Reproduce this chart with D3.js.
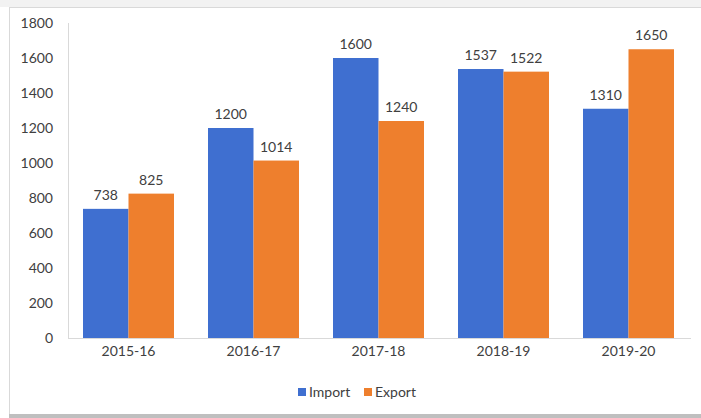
<!DOCTYPE html>
<html><head><meta charset="utf-8">
<script src="https://cdn.jsdelivr.net/npm/d3@7"></script>
<style>body{margin:0;background:#fff;} svg{display:block;}</style>
</head><body>
<svg id="c" width="701" height="418"></svg>
<script>
const categories = ["2015-16","2016-17","2017-18","2018-19","2019-20"];
const seriesNames = ["Import","Export"];
const importValues = [738,1200,1600,1537,1310];
const exportValues = [825,1014,1240,1522,1650];
const yTicks = [0,200,400,600,800,1000,1200,1400,1600,1800];
const colors = ["#3F6FD0","#EE7F2D"];

const svg = d3.select("#c");
const font = "Lato, 'Open Sans', sans-serif";
const fs = 14;

// frame
svg.append("rect").attr("x",0).attr("y",0).attr("width",701).attr("height",7).attr("fill","#f2f2f2");
svg.append("line").attr("x1",9).attr("x2",701).attr("y1",7.5).attr("y2",7.5).attr("stroke","#d9d9d9");
svg.append("line").attr("x1",9.5).attr("x2",9.5).attr("y1",7).attr("y2",416).attr("stroke","#d9d9d9");
svg.append("rect").attr("x",9).attr("y",414).attr("width",692).attr("height",4).attr("fill","#bfbfbf");

const y = d3.scaleLinear().domain([0,1800]).range([338,23]);
const x0 = d3.scaleBand().domain(categories).range([66,691]).paddingInner(0.272).paddingOuter(0.136);
const x1 = d3.scaleBand().domain(seriesNames).range([0,x0.bandwidth()]);

// axes lines
svg.append("line").attr("x1",68.5).attr("x2",68.5).attr("y1",y(1800)).attr("y2",y(0)).attr("stroke","#d9d9d9");
svg.append("line").attr("x1",68).attr("x2",691).attr("y1",y(0)+0.5).attr("y2",y(0)+0.5).attr("stroke","#d9d9d9");

// y tick labels
const yAxis = d3.axisLeft(y).tickValues(yTicks).tickFormat(d3.format("d")).tickSize(0).tickPadding(0);
const ya = svg.append("g").attr("transform","translate(53,0)").call(yAxis);
ya.select(".domain").remove();
ya.selectAll("text").attr("font-family",font).attr("font-size",fs).attr("fill","#404040");

// x labels
const xAxis = d3.axisBottom(x0).tickSize(0).tickPadding(0);
const xa = svg.append("g").attr("transform","translate(0,346)").call(xAxis);
xa.select(".domain").remove();
xa.selectAll("text").attr("font-family",font).attr("font-size",fs).attr("fill","#404040");

const data = categories.map((c,i)=>({cat:c, vals:[importValues[i],exportValues[i]]}));
const g = svg.selectAll("g.grp").data(data).join("g").attr("class","grp")
  .attr("transform",d=>`translate(${x0(d.cat)},0)`);
g.selectAll("rect").data(d=>d.vals.map((v,j)=>({s:seriesNames[j],v,j}))).join("rect")
  .attr("x",d=>x1(d.s)).attr("width",x1.bandwidth())
  .attr("y",d=>y(d.v)).attr("height",d=>y(0)-y(d.v))
  .attr("fill",d=>colors[d.j]);
g.selectAll("text.lbl").data(d=>d.vals.map((v,j)=>({s:seriesNames[j],v,j}))).join("text").attr("class","lbl")
  .attr("x",d=>x1(d.s)+x1.bandwidth()/2).attr("y",d=>y(d.v)-9)
  .attr("text-anchor","middle").attr("font-family",font).attr("font-size",fs).attr("fill","#404040")
  .text(d=>d.v);

// legend
const legend = svg.append("g").attr("transform","translate(298,392)");
seriesNames.forEach((s,i)=>{
  const lx = i*66;
  legend.append("rect").attr("x",lx).attr("y",-4).attr("width",8).attr("height",8).attr("fill",colors[i]);
  legend.append("text").attr("x",lx+11).attr("y",0).attr("dy","0.35em")
    .attr("font-family",font).attr("font-size",fs).attr("fill","#404040").text(s);
});
</script>
</body></html>
